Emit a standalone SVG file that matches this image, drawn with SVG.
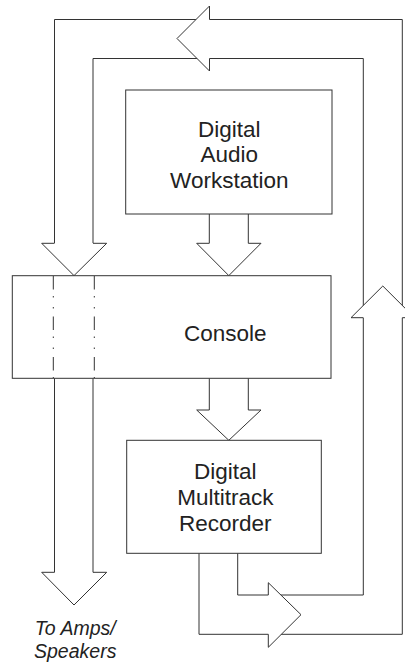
<svg xmlns="http://www.w3.org/2000/svg" width="405" height="664" viewBox="0 0 405 664">
  <style>
    .box { fill: #fff; stroke: #333; stroke-width: 1; }
    .band { fill: none; stroke: #333; stroke-width: 1; }
    .head { fill: #fff; stroke: #333; stroke-width: 1; stroke-linejoin: miter; }
    .thru { fill: none; stroke: #333; stroke-width: 1; stroke-dasharray: 13.5 6.5 1.5 9.5 1.5 8; }
    .lbl { font-family: "Liberation Sans", Arial, sans-serif; font-size: 22.5px; fill: #222; text-anchor: middle; }
    .note { font-family: "Liberation Sans", Arial, sans-serif; font-size: 19.5px; font-style: italic; fill: #222; text-anchor: middle; }
  </style>
  <rect width="405" height="664" fill="#fff"/>

  <g id="connectors">
    <!-- return loop: recorder out, up the right side, across the top, down into the console -->
    <path class="band" d="M237.7,553.3 V595 H363.3 V58.5 H93 V243.3"/>
    <path class="band" d="M199,553.3 V634.3 H402.3 V19.5 H54.5 V243.3"/>
    <path class="head" d="M268.3,595 V582.7 L301,614.7 L268.3,647.3 V634.3"/>
    <path class="head" d="M363.3,317.7 H351 L382.8,286 L414.6,317.7 H402.3"/>
    <path class="head" d="M209.5,19.5 V6 L177,38.5 L209.5,71 V58.5"/>
    <path class="head" d="M54.5,243.3 H41.7 L74,275.6 L106.7,243.3 H93"/>
    <!-- workstation to console -->
    <path class="head" d="M209.3,214 V243.3 H196.7 L228.8,275.6 L261,243.3 H248.3 V214"/>
    <!-- console to recorder -->
    <path class="head" d="M209.3,378.3 V410 H196.7 L228.8,440.3 L261,410 H248.3 V378.3"/>
    <!-- console out to amps -->
    <path class="head" d="M54.5,378.3 V572.3 H41.7 L74,605 L106.7,572.3 H93 V378.3"/>
  </g>

  <g id="daw">
    <rect class="box" x="125.7" y="90" width="206.3" height="124"/>
    <text class="lbl" x="229.3" y="137">Digital</text>
    <text class="lbl" x="229.3" y="162">Audio</text>
    <text class="lbl" x="229.3" y="188">Workstation</text>
  </g>

  <g id="console">
    <rect class="box" x="12.3" y="275.7" width="318.7" height="102.6"/>
    <path class="thru" d="M53.3,276 V378"/>
    <path class="thru" d="M94.3,276 V378"/>
    <text class="lbl" x="225.3" y="340.7">Console</text>
  </g>

  <g id="recorder">
    <rect class="box" x="126.7" y="440.3" width="194.6" height="113"/>
    <text class="lbl" x="225.3" y="479.3">Digital</text>
    <text class="lbl" x="225.3" y="505">Multitrack</text>
    <text class="lbl" x="225.3" y="530.7">Recorder</text>
  </g>

  <g id="amps">
    <text class="note" x="75.2" y="635">To Amps/</text>
    <text class="note" x="75.2" y="658">Speakers</text>
  </g>
</svg>
